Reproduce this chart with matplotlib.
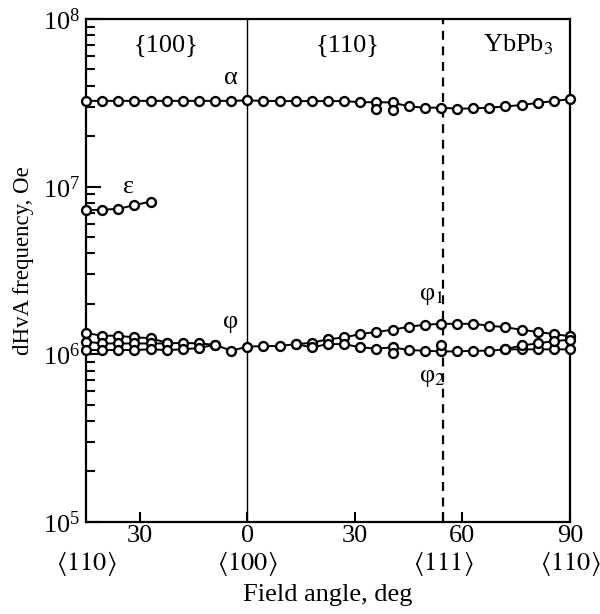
import matplotlib
matplotlib.use('Agg')
import matplotlib.pyplot as plt
from matplotlib.ticker import FixedLocator, LogLocator, LogFormatterMathtext, NullFormatter, FixedFormatter

plt.rcParams['font.family'] = ['Liberation Serif', 'DejaVu Serif']
plt.rcParams['mathtext.fontset'] = 'stix'

# ---------------- data (angle in deg; negative = {100} plane, read as 45..0) -------------
alpha_ang = [-45, -40.5, -36, -31.5, -27, -22.5, -18, -13.5, -9, -4.5, 0,
             4.5, 9, 13.5, 18, 22.5, 27, 31.5, 36, 40.5, 45, 49.5, 54, 58.5,
             63, 67.5, 72, 76.5, 81, 85.5, 90]
alpha_f = [3.25e7, 3.25e7, 3.25e7, 3.25e7, 3.25e7, 3.25e7, 3.25e7, 3.25e7, 3.25e7, 3.25e7, 3.27e7,
           3.25e7, 3.24e7, 3.24e7, 3.24e7, 3.24e7, 3.24e7, 3.19e7, 3.19e7, 3.18e7, 3.01e7, 2.96e7,
           2.96e7, 2.92e7, 2.93e7, 2.96e7, 3.01e7, 3.07e7, 3.16e7, 3.24e7, 3.33e7]
alpha_extra_ang = [36, 40.5]
alpha_extra_f = [2.90e7, 2.88e7]

eps_ang = [-45, -40.5, -36, -31.5, -27]
eps_f = [7.25e6, 7.28e6, 7.38e6, 7.75e6, 8.15e6]

# upper phi branch in {100}
phi_top_ang = [-45, -40.5, -36, -31.5, -27, -22.5]
phi_top_f = [1.34e6, 1.29e6, 1.29e6, 1.26e6, 1.25e6, 1.17e6]
# middle phi branch, continuing into phi_1
phi1_ang = [-45, -40.5, -36, -31.5, -27, -22.5, -18, -13.5, -9, -4.5, 0, 4.5, 9, 13.5,
            18, 22.5, 27, 31.5, 36, 40.5, 45, 49.5, 54, 58.5, 63, 67.5, 72, 76.5, 81, 85.5, 90]
phi1_f = [1.19e6, 1.16e6, 1.16e6, 1.16e6, 1.16e6, 1.16e6, 1.17e6, 1.16e6, 1.14e6, 1.05e6, 1.11e6,
          1.12e6, 1.12e6, 1.15e6, 1.17e6, 1.23e6, 1.26e6, 1.32e6, 1.36e6, 1.40e6, 1.46e6, 1.50e6,
          1.52e6, 1.52e6, 1.52e6, 1.48e6, 1.45e6, 1.40e6, 1.36e6, 1.32e6, 1.28e6]
# lower phi branch in {100}
phi_bot_ang = [-45, -40.5, -36, -31.5, -27, -22.5, -18, -13.5, -9]
phi_bot_f = [1.06e6, 1.06e6, 1.06e6, 1.06e6, 1.07e6, 1.06e6, 1.07e6, 1.09e6, 1.14e6]
# phi_2 branch
phi2_ang = [13.5, 18, 22.5, 27, 31.5, 36, 40.5, 45, 49.5, 54, 58.5, 63, 67.5, 72, 76.5, 81, 85.5, 90]
phi2_f = [1.15e6, 1.10e6, 1.15e6, 1.15e6, 1.10e6, 1.08e6, 1.10e6, 1.06e6, 1.05e6, 1.04e6, 1.04e6,
          1.05e6, 1.05e6, 1.07e6, 1.07e6, 1.07e6, 1.07e6, 1.07e6]
# short branch near <110>
phi3_ang = [72, 76.5, 81, 85.5, 90]
phi3_f = [1.07e6, 1.13e6, 1.16e6, 1.20e6, 1.22e6]
phi_extra_ang = [40.5, 54]
phi_extra_f = [1.02e6, 1.14e6]

xticks = [-30, 0, 30, 54.7, 60, 90]
xtick_labels = ['30', '0', '30', '', '60', '90']
dir_pos = [-45, 0, 54.7, 90]
dir_labels = [r'$\langle 110\rangle$', r'$\langle 100\rangle$', r'$\langle 111\rangle$', r'$\langle 110\rangle$']

FS = 19

# ---------------- figure ----------------
fig = plt.figure(figsize=(6.0, 6.14), dpi=100)
ax = fig.add_axes([0.1433, 0.150, 0.8067, 0.819])
ax.set_yscale('log')
ax.set_xlim(-45, 90)
ax.set_ylim(1e5, 1e8)

ax.axvline(0, color='black', lw=1.0, zorder=1)
ax.axvline(54.7, color='black', lw=1.6, ls=(0, (4, 3)), zorder=1)

mk = dict(marker='o', ms=6.4, mfc='white', mec='black', mew=1.7, color='black', lw=1.4, zorder=3)
for a, f in [(alpha_ang, alpha_f), (eps_ang, eps_f), (phi_top_ang, phi_top_f),
             (phi1_ang, phi1_f), (phi_bot_ang, phi_bot_f), (phi2_ang, phi2_f), (phi3_ang, phi3_f)]:
    ax.plot(a, f, clip_on=False, **mk)
for a, f in [(alpha_extra_ang, alpha_extra_f), (phi_extra_ang, phi_extra_f)]:
    ax.plot(a, f, ls='none', clip_on=False, **{k: v for k, v in mk.items() if k != 'lw'})

# ticks
ax.xaxis.set_major_locator(FixedLocator(xticks))
ax.xaxis.set_major_formatter(FixedFormatter(xtick_labels))
ax.tick_params(axis='x', which='major', direction='in', length=7, width=1.5,
               labelsize=FS, pad=2, top=False)
ax.yaxis.set_major_locator(LogLocator(base=10, numticks=10))
ax.yaxis.set_minor_locator(LogLocator(base=10, subs=range(2, 10), numticks=10))
ax.yaxis.set_major_formatter(LogFormatterMathtext())
ax.yaxis.set_minor_formatter(NullFormatter())
ax.tick_params(axis='y', which='major', direction='in', length=11, width=1.5,
               labelsize=FS, pad=4, right=False)
ax.tick_params(axis='y', which='minor', direction='in', length=6.5, width=1.5, right=False)
for s in ax.spines.values():
    s.set_linewidth(1.6)

trans = ax.get_xaxis_transform()
for p, t in zip(dir_pos, dir_labels):
    ax.text(p, -0.083, t, transform=trans, ha='center', va='center', fontsize=FS)

ax.set_xlabel('Field angle, deg', fontsize=FS, labelpad=27)
ax.set_ylabel('dHvA frequency, Oe', fontsize=16.5)
ax.yaxis.set_label_coords(-0.108, 0.52)

# annotations
ax.text(-22.8, 7.0e7, '{100}', ha='center', va='center', fontsize=FS)
ax.text(28.1, 7.0e7, '{110}', ha='center', va='center', fontsize=FS)
ax.text(75.5, 7.0e7, r'YbPb$_3$', ha='center', va='center', fontsize=FS)
ax.text(-4.7, 4.45e7, 'α', ha='center', va='center', fontsize=FS)
ax.text(-33, 1.0e7, 'ε', ha='center', va='center', fontsize=FS)
ax.text(-4.7, 1.56e6, 'φ', ha='center', va='center', fontsize=FS)
ax.text(51.5, 2.23e6, r'φ$_1$', ha='center', va='center', fontsize=FS)
ax.text(51.5, 7.2e5, r'φ$_2$', ha='center', va='center', fontsize=FS)

fig.savefig('out.png', dpi=100)
